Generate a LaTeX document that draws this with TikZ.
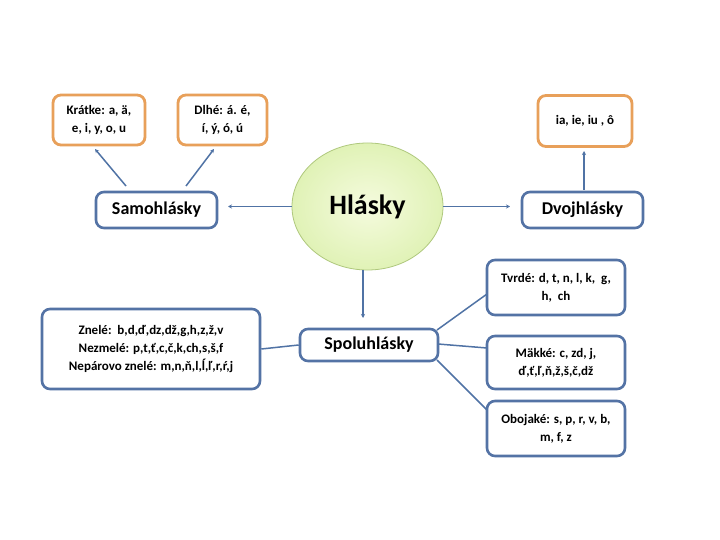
\documentclass[tikz,border=0pt]{standalone}
\usepackage{fontspec}
\setmainfont{Carlito}
\usetikzlibrary{arrows.meta,shapes.geometric}
\definecolor{orng}{RGB}{232,160,90}
\definecolor{bluebd}{RGB}{84,115,165}
\definecolor{lnblue}{RGB}{80,115,165}
\definecolor{ellin}{RGB}{245,251,222}
\definecolor{ellout}{RGB}{224,242,182}
\definecolor{ellbd}{RGB}{175,200,125}
\tikzset{
  obox/.style={draw=orng, line width=2.8pt, rounded corners=8pt, fill=white, align=center, font=\bfseries\fontsize{13}{18}\selectfont, inner sep=0pt},
  bbox/.style={draw=bluebd, line width=2.6pt, rounded corners=8pt, fill=white, align=center, font=\bfseries\fontsize{13}{18}\selectfont, inner sep=0pt},
  bigtxt/.style={font=\bfseries\fontsize{18}{21}\selectfont},
  conn/.style={draw=lnblue, line width=1.5pt},
  arr/.style={conn, -{Stealth[length=4pt,width=4pt]}}
}
\begin{document}
\begin{tikzpicture}[x=1pt,y=-1pt]
\useasboundingbox[fill=white] (0,0) rectangle (720,540);
% top orange boxes
\node[obox, minimum width=92pt, minimum height=50pt] (kr) at (99,120) {Krátke: a, ä,\\e, i, y, o, u};
\node[obox, minimum width=89pt, minimum height=50pt] (dl) at (222.5,120) {Dlhé: á. é,\\í, ý, ó, ú};
\node[obox, minimum width=94pt, minimum height=51pt] (ia) at (585,121) {ia, ie, iu , ô};
% middle row
\node[bbox, bigtxt, minimum width=121pt, minimum height=36pt] (sa) at (156.5,210) {Samohlásky};
\node[ellipse, draw=ellbd, line width=0.8pt, inner color=ellin, outer color=ellout, minimum width=151pt, minimum height=127pt, inner sep=0pt, font=\bfseries\fontsize{28}{32}\selectfont] (hl) at (367.5,206.5) {Hlásky};
\node[bbox, bigtxt, minimum width=121pt, minimum height=36pt] (dv) at (582.5,210) {Dvojhlásky};
% lower part
\node[bbox, minimum width=138pt, minimum height=55pt] (tv) at (556,287.5) {Tvrdé: d, t, n, l, k,\ \ g,\\h,\ \ ch};
\node[bbox, minimum width=218pt, minimum height=80pt, font=\bfseries\fontsize{13}{18}\selectfont] (zn) at (151,349) {Znelé:\ \ b,d,ď,dz,dž,g,h,z,ž,v\\Nezmelé: p,t,ť,c,č,k,ch,s,š,f\\Nepárovo znelé: m,n,ň,l,ĺ,ľ,r,ŕ,j};
\node[bbox, bigtxt, minimum width=138pt, minimum height=32pt] (sp) at (369,345) {Spoluhlásky};
\node[bbox, minimum width=138pt, minimum height=53pt] (mk) at (556,362.5) {Mäkké: c, zd, j,\\ď,ť,ľ,ň,ž,š,č,dž};
\node[bbox, minimum width=138pt, minimum height=55pt] (ob) at (556,428.5) {Obojaké: s, p, r, v, b,\\m, f, z};
% arrows from Hlasky
\coordinate (saA) at (228,206.5);
\coordinate (dvA) at (510,206.5);
\coordinate (hlS) at (363,269.5);
\coordinate (spA) at (363,318);
\draw[arr] (hl.west) -- (saA);
\draw[arr] (hl.east) -- (dvA);
\draw[arr] (hlS) -- (spA);
% arrows to top boxes
\coordinate (sa1) at (126,186);
\coordinate (sa2) at (186,186);
\coordinate (kA) at (95,149);
\coordinate (dA) at (214,149);
\coordinate (dv1) at (584,190);
\coordinate (iA) at (584,151);
\draw[arr] (sa1) -- (kA);
\draw[arr] (sa2) -- (dA);
\draw[arr] (dv1) -- (iA);
% spoluhlasky connectors
\coordinate (spne) at (437,330);
\coordinate (spe) at (438,344);
\coordinate (spse) at (437,360);
\coordinate (tvW) at (487,294);
\coordinate (mkW) at (487,348);
\coordinate (obW) at (487,410);
\draw[conn] (sp.west) -- (zn.east);
\draw[conn] (spne) -- (tvW);
\draw[conn] (spe) -- (mkW);
\draw[conn] (spse) -- (obW);
\end{tikzpicture}
\end{document}
